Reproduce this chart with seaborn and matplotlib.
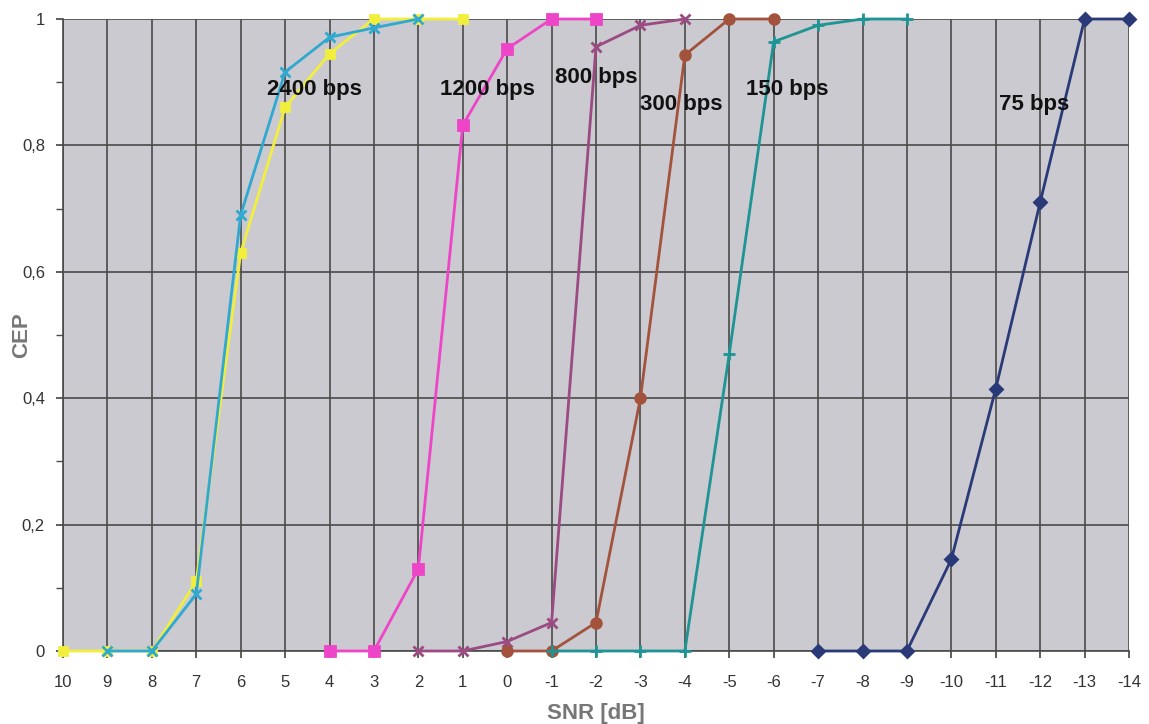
import matplotlib
matplotlib.use("Agg")
import matplotlib.pyplot as plt
import seaborn as sns
import pandas as pd
from matplotlib.ticker import MultipleLocator, FuncFormatter

sns.set_theme(style="white")
plt.rcParams['font.family'] = ['Liberation Sans', 'DejaVu Sans']

# ---- data ----
snr_2400a = [10, 9, 8, 7, 6, 5, 4, 3, 2, 1]
cep_2400a = [0, 0, 0, 0.11, 0.63, 0.86, 0.945, 1.0, 1.0, 1.0]
snr_2400b = [9, 8, 7, 6, 5, 4, 3, 2]
cep_2400b = [0, 0, 0.09, 0.69, 0.916, 0.971, 0.986, 1.0]
snr_1200 = [4, 3, 2, 1, 0, -1, -2]
cep_1200 = [0, 0, 0.13, 0.832, 0.953, 1.0, 1.0]
snr_800 = [2, 1, 0, -1, -2, -3, -4]
cep_800 = [0, 0, 0.015, 0.045, 0.956, 0.99, 1.0]
snr_300 = [0, -1, -2, -3, -4, -5, -6]
cep_300 = [0, 0, 0.045, 0.40, 0.943, 1.0, 1.0]
snr_150 = [-1, -2, -3, -4, -5, -6, -7, -8, -9]
cep_150 = [0, 0, 0, 0, 0.47, 0.964, 0.99, 1.0, 1.0]
snr_75 = [-7, -8, -9, -10, -11, -12, -13, -14]
cep_75 = [0, 0, 0, 0.145, 0.415, 0.71, 1.0, 1.0]

labels = ["2400 bps", "1200 bps", "800 bps", "300 bps", "150 bps", "75 bps"]
label_x = [4.33, 0.45, -2.0, -3.93, -6.31, -11.86]
label_y = [0.888, 0.888, 0.908, 0.864, 0.888, 0.864]

x_ticks = list(range(10, -15, -1))

series = [
    (snr_2400a, cep_2400a, "#f2ef3c", "s", 6),
    (snr_2400b, cep_2400b, "#2fa9cf", "x", 7),
    (snr_1200, cep_1200, "#ee44c8", "s", 7),
    (snr_800, cep_800, "#9b4a82", "x", 7),
    (snr_300, cep_300, "#a3523c", "o", 7),
    (snr_150, cep_150, "#1e9494", "+", 8),
    (snr_75, cep_75, "#2a3a78", "D", 6),
]

fig = plt.figure(figsize=(11.49, 7.24), dpi=100)
ax = fig.add_axes([63 / 1149, 73 / 724, 1066 / 1149, 632 / 724])
ax.set_facecolor("#cacad0")

for xs, ys, col, mk, ms in series:
    df = pd.DataFrame({"SNR": xs, "CEP": ys})
    sns.lineplot(data=df, x="SNR", y="CEP", ax=ax, color=col, marker=mk,
                 markersize=ms, markeredgecolor=col, markeredgewidth=2,
                 linewidth=2, sort=False, zorder=3, clip_on=False)

for t, lx, ly in zip(labels, label_x, label_y):
    ax.text(lx, ly, t, ha="center", va="center", fontsize=16,
            fontweight="bold", color="#111111", zorder=4)

ax.set_xlim(10, -14)
ax.set_ylim(0, 1)
ax.set_xticks(x_ticks)
ax.set_xticklabels([str(v) for v in x_ticks])
ax.yaxis.set_major_locator(MultipleLocator(0.2))
ax.yaxis.set_minor_locator(MultipleLocator(0.1))
ax.yaxis.set_major_formatter(FuncFormatter(
    lambda v, p: "0" if abs(v) < 1e-9 else ("1" if abs(v - 1) < 1e-9 else f"{v:.1f}".replace(".", ","))))

ax.grid(True, which="major", color="#4a4a4a", linewidth=1.2, zorder=1)
ax.set_axisbelow(True)
for s in ["top", "right"]:
    ax.spines[s].set_visible(False)
for s in ["left", "bottom"]:
    ax.spines[s].set_color("#4a4a4a")
    ax.spines[s].set_linewidth(1.2)

ax.tick_params(axis="x", which="both", length=5, color="#4a4a4a", labelsize=12,
               labelcolor="#333333", pad=12, direction="out", bottom=True)
ax.tick_params(axis="y", which="both", length=5, color="#4a4a4a", labelsize=12,
               labelcolor="#333333", pad=8, direction="out", left=True)

ax.set_xlabel("SNR [dB]", fontsize=16, fontweight="bold", color="#777777")
ax.set_ylabel("CEP", fontsize=16, fontweight="bold", color="#777777")
ax.xaxis.set_label_coords(0.5, -0.082)
ax.yaxis.set_label_coords(-0.0385, 0.5)
ax.yaxis.label.set_va("center")
ax.xaxis.label.set_va("top")

fig.savefig("out.png", dpi=100)
